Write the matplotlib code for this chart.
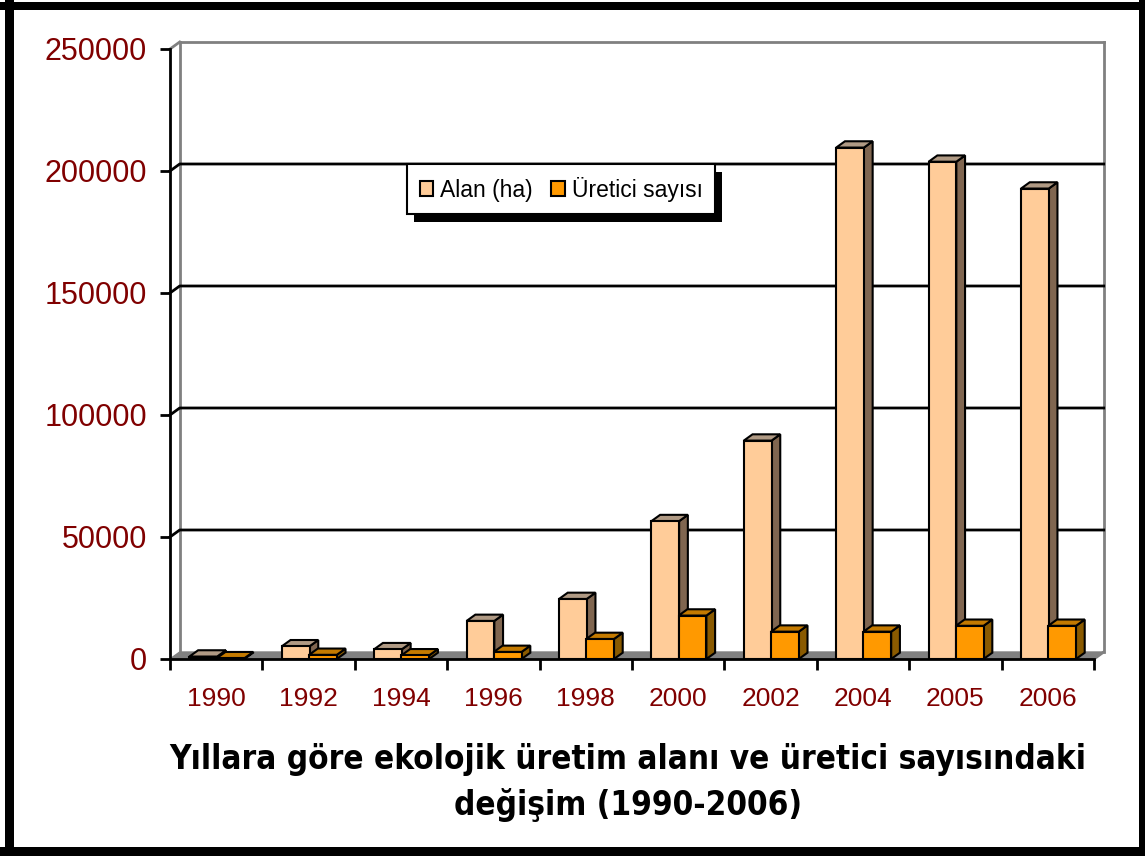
import numpy as np
import matplotlib
matplotlib.use("Agg")
import matplotlib.pyplot as plt
from matplotlib.patches import Polygon, Rectangle
from matplotlib.transforms import IdentityTransform

# ---- data -----------------------------------------------------------------
years = ["1990", "1992", "1994", "1996", "1998", "2000", "2002", "2004", "2005", "2006"]
alan = [1000, 5200, 4000, 15600, 24600, 56500, 89500, 209600, 203800, 192800]
uretici = [300, 1700, 1500, 2900, 8200, 17800, 11200, 11200, 13600, 13600]
series_names = ["Alan (ha)", "Üretici sayısı"]

W, H = 1145, 856
fig = plt.figure(figsize=(W / 100, H / 100), dpi=100)

# axes: front plane of the pseudo-3D chart (pixel layout of the reference)
x0, x1, y0, y1 = 170, 1094, 659, 49
ax = fig.add_axes([x0 / W, (H - y0) / H, (x1 - x0) / W, (y0 - y1) / H])
ax.set_xlim(0, 10)
ax.set_ylim(0, 250000)
ax.set_facecolor("none")

DX, DY = 0.105, 2870          # depth offset of back wall / bar depth
YMAX = 250000
GRAY = "#808080"

# ---- back wall, floor, gridlines ------------------------------------------
ax.add_patch(Polygon([(0, 0), (10, 0), (10 + DX, DY), (DX, DY)],
                     closed=True, fc=GRAY, ec=GRAY, lw=1, clip_on=False, zorder=1))
for xs, ys in [([DX, DX], [DY, YMAX + DY]),
               ([DX, 10 + DX], [YMAX + DY, YMAX + DY]),
               ([10 + DX, 10 + DX], [DY, YMAX + DY]),
               ([0, DX], [YMAX, YMAX + DY]),
               ([10, 10 + DX], [0, DY])]:
    ax.plot(xs, ys, color=GRAY, lw=2, clip_on=False, zorder=1.2)
for v in range(50000, 250000, 50000):
    ax.plot([0, DX, 10 + DX], [v, v + DY, v + DY], color="black", lw=2,
            clip_on=False, zorder=1.5)

# ---- bars with side and top faces -----------------------------------------
bw = 0.3
offs = [-0.14, 0.155]
faces = [("#FFCC99", "#806650", "#b09a84"), ("#FF9900", "#8a5a00", "#c47a00")]
xc = np.arange(len(years)) + 0.5
handles = []
for i in range(len(years)):
    for s, vals in enumerate([alan, uretici]):
        front, side, top = faces[s]
        xl = xc[i] + offs[s] - bw / 2
        xr = xl + bw
        v = vals[i]
        z = 3 + i * 0.01 + s * 0.005
        ax.add_patch(Polygon([(xr, 0), (xr + DX * 0.9, DY * 0.9), (xr + DX * 0.9, v + DY * 0.9), (xr, v)],
                             closed=True, fc=side, ec="black", lw=1.5, clip_on=False, zorder=z))
        ax.add_patch(Polygon([(xl, v), (xl + DX * 0.9, v + DY * 0.9), (xr + DX * 0.9, v + DY * 0.9), (xr, v)],
                             closed=True, fc=top, ec="black", lw=1.5, clip_on=False, zorder=z))
        b = ax.bar(xl, v, width=bw, align="edge", color=front, edgecolor="black",
                   lw=1.5, zorder=z + 0.001, clip_on=False)
        if i == 0:
            handles.append(b)

# ---- axes, ticks ----------------------------------------------------------
for sp in ["top", "right"]:
    ax.spines[sp].set_visible(False)
for sp in ["left", "bottom"]:
    ax.spines[sp].set_linewidth(2)
    ax.spines[sp].set_zorder(4)

ax.set_yticks(range(0, 250001, 50000))
ax.set_yticklabels([str(v) for v in range(0, 250001, 50000)])
ax.tick_params(axis="y", length=7.5, width=2, pad=9, labelsize=22,
               labelcolor="#800000", direction="out")
ax.set_xticks(np.arange(0, 11))
ax.set_xticklabels([])
ax.tick_params(axis="x", which="major", length=8, width=2, direction="out")
ax.set_xticks(xc, minor=True)
ax.set_xticklabels(years, minor=True)
ax.tick_params(axis="x", which="minor", length=0, pad=20, labelsize=19,
               labelcolor="#800000")
for lab in ax.get_yticklabels() + ax.get_xticklabels(minor=True):
    lab.set_family(["Liberation Sans", "DejaVu Sans"])

# ---- legend with hard black shadow ----------------------------------------
leg = ax.legend(handles, series_names, ncol=2, loc="upper left",
                bbox_to_anchor=(407 / W, 1 - 164 / H), bbox_transform=fig.transFigure,
                frameon=True, fancybox=False, edgecolor="black", framealpha=1,
                borderaxespad=0, handlelength=0.6, handleheight=0.6,
                handletextpad=0.3, columnspacing=0.8, borderpad=0.55,
                prop={"family": ["Liberation Sans", "DejaVu Sans"], "size": 16.5})
leg.get_frame().set_linewidth(1.5)
leg.set_zorder(10)

# ---- caption --------------------------------------------------------------
tfont = dict(family=["DejaVu Sans"], stretch="condensed", weight="bold",
             size=26, ha="center", va="center")
t1 = fig.text(628 / W, 1 - 760 / H, "Yıllara göre ekolojik üretim alanı ve üretici sayısındaki", **tfont)
t2 = fig.text(628 / W, 1 - 805 / H, "değişim (1990-2006)", **tfont)

# shrink caption until the first line is as wide as in the reference (~915 px)
fig.canvas.draw()
r = fig.canvas.get_renderer()
wid = t1.get_window_extent(r).width
if wid > 915:
    for t in (t1, t2):
        t.set_fontsize(26 * 915 / wid)

fig.canvas.draw()
bb = leg.get_window_extent()
ax.add_patch(Rectangle((bb.x0 + 7, bb.y0 - 8), bb.width, bb.height, fc="black",
                       ec="none", transform=IdentityTransform(), clip_on=False,
                       zorder=9))

# ---- black frame round the picture ----------------------------------------
for (px, py, pw, ph) in [(5, 0, 9, H), (0, 2, W, 8), (1139, 0, 6, H), (0, 847, W, 9)]:
    fig.patches.append(Rectangle((px / W, 1 - (py + ph) / H), pw / W, ph / H,
                                 transform=fig.transFigure, fc="black", ec="none"))

fig.savefig("out.png", dpi=100)
